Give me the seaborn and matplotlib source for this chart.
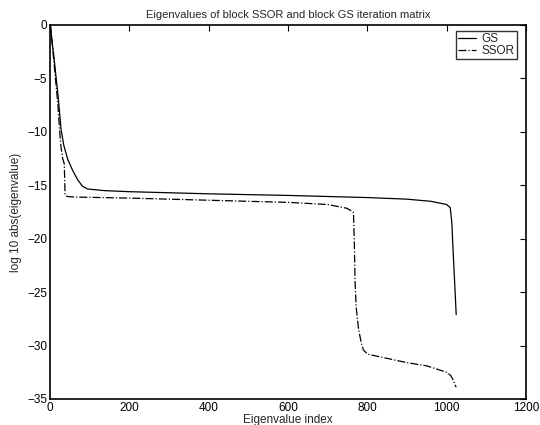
import pandas as pd
import matplotlib
matplotlib.use('Agg')
import matplotlib.pyplot as plt
import seaborn as sns

# Valores (log10 |autovalor| por índice)
gs_idx = [1, 5, 10, 15, 20, 28, 35, 45, 57, 70, 82, 95, 137, 200, 400, 600,
          800, 900, 960, 1000, 1009, 1013, 1016, 1020, 1024]
gs_val = [0, -1.5, -3, -4.8, -6.5, -9.8, -11.3, -12.6, -13.6, -14.5, -15.1,
          -15.35, -15.5, -15.6, -15.8, -15.95, -16.15, -16.3, -16.5, -16.8,
          -17.1, -18.5, -21, -24, -27.1]

ssor_idx = [1, 5, 10, 15, 20, 24, 28, 32, 36, 37, 38, 40, 44, 60, 200, 400,
            600, 700, 748, 760, 765, 767, 769, 772, 778, 785, 790, 800, 850,
            900, 950, 1000, 1010, 1016, 1020, 1024]
ssor_val = [0, -1.5, -3.5, -5.5, -7.5, -9.8, -11.5, -12.5, -13, -14.5, -15.8,
            -16.0, -16.05, -16.1, -16.2, -16.4, -16.6, -16.8, -17.15, -17.4,
            -17.55, -20, -24, -26.5, -28.5, -29.8, -30.4, -30.8, -31.2, -31.6,
            -31.9, -32.5, -32.8, -33.2, -33.6, -33.9]

df_gs = pd.DataFrame({'indice': gs_idx, 'valor': gs_val})
df_ssor = pd.DataFrame({'indice': ssor_idx, 'valor': ssor_val})

sns.set_style('white')
plt.rcParams['font.family'] = ['Liberation Sans', 'DejaVu Sans']
plt.rcParams['xtick.direction'] = 'in'
plt.rcParams['ytick.direction'] = 'in'

fig = plt.figure(figsize=(5.4, 4.25), dpi=100)
ax = fig.add_axes([0.0926, 0.0612, 0.8815, 0.8800])

sns.lineplot(data=df_gs, x='indice', y='valor', color='black', linewidth=0.9,
             label='GS', ax=ax, estimator=None, sort=False)
sns.lineplot(data=df_ssor, x='indice', y='valor', color='black', linewidth=0.9,
             linestyle='-.', label='SSOR', ax=ax, estimator=None, sort=False)

ax.set_xlim(0, 1200)
ax.set_ylim(-35, 0)
ax.set_xticks(range(0, 1201, 200))
ax.set_yticks(range(-35, 1, 5))
ax.tick_params(axis='both', which='both', direction='in', length=4, width=0.8,
               labelsize=8.5, top=True, right=True, pad=2, colors='black')
for s in ax.spines.values():
    s.set_visible(True)
    s.set_linewidth(1.2)
    s.set_color('black')

ax.set_xlabel('Eigenvalue index', fontsize=8.5, labelpad=0)
ax.set_ylabel('log 10 abs(eigenvalue)', fontsize=8.5, labelpad=4)
ax.set_title('Eigenvalues of block SSOR and block GS iteration matrix',
             fontsize=8, pad=5)

leg = ax.legend(loc='upper right', bbox_to_anchor=(0.985, 0.99), fontsize=8.5,
                frameon=True, fancybox=False, handlelength=1.5,
                borderpad=0.15, labelspacing=0.0, handletextpad=0.5,
                borderaxespad=0.2)
leg.get_frame().set_edgecolor('black')
leg.get_frame().set_linewidth(1.0)

fig.savefig('out.png', dpi=100)
